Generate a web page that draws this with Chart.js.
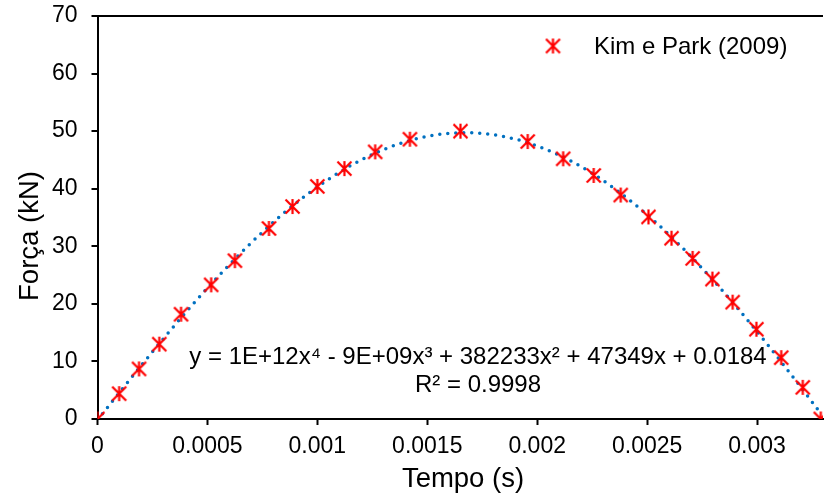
<!DOCTYPE html>
<html>
<head>
<meta charset="utf-8">
<script src="https://cdn.jsdelivr.net/npm/chart.js@4"></script>
<style>
  html, body { margin: 0; padding: 0; background: #fff; overflow: hidden; }
  #wrap { width: 827px; height: 498px; overflow: hidden; }
</style>
</head>
<body>
<div id="wrap"><canvas id="chart" width="832" height="498"></canvas></div>
<script>
// Kim e Park (2009): força x tempo
const tempo = [0, 0.0000984, 0.000189, 0.000281, 0.00038, 0.000517, 0.000625, 0.00078, 0.000887,
  0.001, 0.001123, 0.001263, 0.001421, 0.001651, 0.001957, 0.002118, 0.002257, 0.00238, 0.002506,
  0.002611, 0.002707, 0.002797, 0.002889, 0.002997, 0.00311, 0.003208, 0.00329];
const forca = [0, 4.4, 8.7, 13.0, 18.2, 23.3, 27.5, 33.1, 36.9, 40.4, 43.5, 46.4, 48.6, 50.0,
  48.2, 45.2, 42.3, 38.9, 35.1, 31.4, 27.9, 24.3, 20.3, 15.6, 10.65, 5.5, 0];
const yTicks = [0, 10, 20, 30, 40, 50, 60, 70];
const xTicks = [0, 0.0005, 0.001, 0.0015, 0.002, 0.0025, 0.003];
const serieNome = "Kim e Park (2009)";
const equacao = "y = 1E+12x\u2074 - 9E+09x\u00b3 + 382233x\u00b2 + 47349x + 0.0184";
const r2 = "R\u00b2 = 0.9998";

const FONT = "'Liberation Sans', Arial, sans-serif";

// polynomial trendline (order 4), least squares on t = x*1000
function polyFit(xs, ys, deg) {
  const n = deg + 1;
  const A = Array.from({ length: n }, () => new Array(n + 1).fill(0));
  xs.forEach((x, k) => {
    const t = x * 1000;
    for (let i = 0; i < n; i++) {
      for (let j = 0; j < n; j++) A[i][j] += Math.pow(t, i + j);
      A[i][n] += ys[k] * Math.pow(t, i);
    }
  });
  for (let i = 0; i < n; i++) {
    let p = i;
    for (let r = i + 1; r < n; r++) if (Math.abs(A[r][i]) > Math.abs(A[p][i])) p = r;
    [A[i], A[p]] = [A[p], A[i]];
    for (let r = 0; r < n; r++) {
      if (r === i) continue;
      const f = A[r][i] / A[i][i];
      for (let c = i; c <= n; c++) A[r][c] -= f * A[i][c];
    }
  }
  return A.map((row, i) => row[n] / row[i]);
}
const coef = polyFit(tempo, forca, 4);
const tend = [];
const xEnd = tempo[tempo.length - 1];
for (let i = 0; i <= 200; i++) {
  const x = xEnd * i / 200, t = x * 1000;
  tend.push({ x: x, y: coef.reduce((s, c, k) => s + c * Math.pow(t, k), 0) });
}

// Excel-style star marker: X plus vertical bar
function starMarker(size) {
  const c = document.createElement("canvas");
  c.width = size; c.height = size;
  const g = c.getContext("2d");
  const h = size / 2, r = h - 1.5;
  g.strokeStyle = "#ff0000";
  g.lineWidth = 2.2;
  g.beginPath();
  g.moveTo(h - r, h - r); g.lineTo(h + r, h + r);
  g.moveTo(h + r, h - r); g.lineTo(h - r, h + r);
  g.moveTo(h, h - r - 0.5); g.lineTo(h, h + r + 0.5);
  g.stroke();
  return c;
}
const marker = starMarker(17);

const extras = {
  id: "extras",
  afterDraw(chart) {
    const ctx = chart.ctx;
    ctx.save();
    ctx.fillStyle = "#000";
    // equation
    ctx.font = "24px " + FONT;
    ctx.textAlign = "center";
    ctx.textBaseline = "alphabetic";
    ctx.fillText(equacao, 478, 364);
    ctx.fillText(r2, 478, 392);
    // legend
    ctx.drawImage(marker, 553 - 8.5, 46 - 8.5);
    ctx.font = "24px " + FONT;
    ctx.textAlign = "left";
    ctx.fillText(serieNome, 594, 54);
    // axis titles
    ctx.font = "27.5px " + FONT;
    ctx.textAlign = "center";
    ctx.fillText("Tempo (s)", 463, 487);
    ctx.translate(37.5, 236);
    ctx.rotate(-Math.PI / 2);
    ctx.fillText("Força (kN)", 0, 0);
    ctx.restore();
  }
};

new Chart(document.getElementById("chart"), {
  type: "scatter",
  data: {
    datasets: [
      {
        label: serieNome,
        data: tempo.map((x, i) => ({ x: x, y: forca[i] })),
        pointStyle: marker,
        pointRadius: 8,
        order: 1
      },
      {
        label: "Polinomial",
        type: "line",
        data: tend,
        borderColor: "#0070c0",
        borderWidth: 3.5,
        borderDash: [0, 8],
        borderCapStyle: "round",
        pointRadius: 0,
        fill: false,
        order: 2
      }
    ]
  },
  options: {
    responsive: false,
    animation: false,
    events: [],
    layout: { padding: { top: 16, right: 3.2, left: 0, bottom: 0 } },
    plugins: { legend: { display: false }, tooltip: { enabled: false } },
    scales: {
      x: {
        type: "linear",
        min: 0,
        max: 0.0033,
        afterFit: s => { s.height = 79; s.paddingLeft = 0; s.paddingRight = 0; },
        afterBuildTicks: s => { s.ticks = xTicks.map(v => ({ value: v })); },
        border: { color: "#000", width: 2 },
        grid: { drawOnChartArea: false, tickLength: 6, tickColor: "#000", tickWidth: 2 },
        ticks: {
          color: "#000",
          font: { family: FONT, size: 23 },
          padding: 8,
          maxRotation: 0,
          callback: v => String(v)
        }
      },
      y: {
        min: 0,
        max: 70,
        afterFit: s => { s.width = 97.5; s.paddingTop = 0; s.paddingBottom = 0; },
        afterBuildTicks: s => { s.ticks = yTicks.map(v => ({ value: v })); },
        border: { color: "#000", width: 2 },
        grid: {
          color: c => (c.tick && c.tick.value === 70 ? "#000" : "rgba(0,0,0,0)"),
          lineWidth: 2,
          tickLength: 6,
          tickColor: "#000",
          tickWidth: 2
        },
        ticks: {
          color: "#000",
          font: { family: FONT, size: 23 },
          padding: 14
        }
      }
    }
  },
  plugins: [extras]
});
</script>
</body>
</html>
